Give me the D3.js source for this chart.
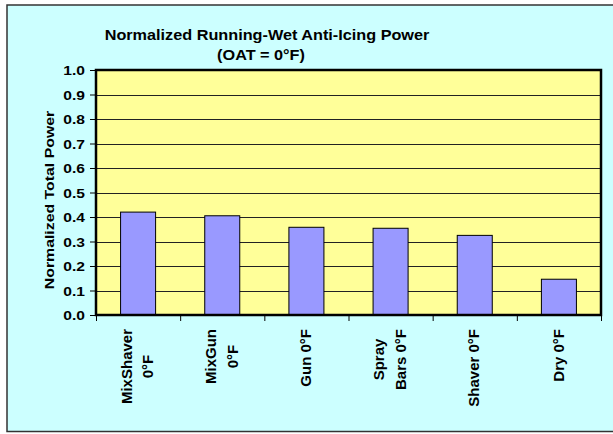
<!DOCTYPE html>
<html>
<head>
<meta charset="utf-8">
<script src="https://cdn.jsdelivr.net/npm/d3@7"></script>
<style>
  body { margin: 0; background: #fff; }
  svg { display: block; }
</style>
</head>
<body>
<div id="chart"></div>
<script>
const categories = ["MixShaver\n0°F", "MixGun\n0°F", "Gun 0°F", "Spray\nBars 0°F", "Shaver 0°F", "Dry 0°F"];
const values = [0.42, 0.405, 0.358, 0.354, 0.325, 0.146];
const yTicks = [0, 0.1, 0.2, 0.3, 0.4, 0.5, 0.6, 0.7, 0.8, 0.9, 1.0];
const titleLines = ["Normalized Running-Wet Anti-Icing Power", "(OAT = 0°F)"];
const yTitle = "Normalized Total Power";

const width = 613, height = 434;
const plot = { left: 96, right: 601, top: 70, bottom: 315 };
const font = "'Liberation Sans', Arial, Helvetica, sans-serif";

const svg = d3.select("#chart").append("svg")
  .attr("width", width)
  .attr("height", height);

// chart area (light cyan with dark frame, runs past the right edge)
svg.append("rect")
  .attr("x", 7).attr("y", 5)
  .attr("width", 700).attr("height", 426.5)
  .attr("fill", "#ccffff")
  .attr("stroke", "#333")
  .attr("stroke-width", 1.5);

const x = d3.scaleBand()
  .domain(categories)
  .range([plot.left, plot.right])
  .paddingInner(0.584)
  .paddingOuter(0.292);

const xEdges = d3.scaleLinear()
  .domain([0, categories.length])
  .range([plot.left, plot.right]);

const y = d3.scaleLinear()
  .domain([0, 1])
  .range([plot.bottom, plot.top]);

// plot area
svg.append("rect")
  .attr("x", plot.left).attr("y", plot.top)
  .attr("width", plot.right - plot.left)
  .attr("height", plot.bottom - plot.top)
  .attr("fill", "#ffff99");

// gridlines
svg.append("g")
  .selectAll("line")
  .data(yTicks.filter((d) => d > 0 && d < 1))
  .join("line")
  .attr("x1", plot.left).attr("x2", plot.right)
  .attr("y1", (d) => Math.round(y(d)) + 0.5)
  .attr("y2", (d) => Math.round(y(d)) + 0.5)
  .attr("stroke", "#222")
  .attr("stroke-width", 1);

// bars
svg.append("g")
  .selectAll("rect")
  .data(values)
  .join("rect")
  .attr("x", (d, i) => x(categories[i]))
  .attr("y", (d) => y(d))
  .attr("width", x.bandwidth())
  .attr("height", (d) => y(0) - y(d))
  .attr("fill", "#9999ff")
  .attr("stroke", "#000")
  .attr("stroke-width", 1);

// plot frame
svg.append("rect")
  .attr("x", plot.left).attr("y", plot.top)
  .attr("width", plot.right - plot.left)
  .attr("height", plot.bottom - plot.top)
  .attr("fill", "none")
  .attr("stroke", "#000")
  .attr("stroke-width", 2.5);

// y axis
const yAxis = svg.append("g")
  .attr("transform", `translate(${plot.left - 1}, 0)`)
  .call(d3.axisLeft(y).tickValues(yTicks).tickSize(5).tickFormat(d3.format(".1f")));
yAxis.select(".domain").remove();
yAxis.selectAll("line").attr("stroke", "#000");
yAxis.selectAll("text")
  .attr("x", -10 / 1.2)
  .attr("dy", "0.36em")
  .attr("transform", "scale(1.2,1)")
  .style("font-family", font)
  .style("font-weight", "bold")
  .style("font-size", "13px")
  .attr("fill", "#000");

// x axis ticks at category edges
const xAxis = svg.append("g")
  .attr("transform", `translate(0, ${plot.bottom + 1})`)
  .call(d3.axisBottom(xEdges).tickValues(d3.range(categories.length + 1)).tickSize(5).tickFormat(""));
xAxis.select(".domain").remove();
xAxis.selectAll("line").attr("stroke", "#000");

// x labels, rotated, lines centred on each other
const labelTop = 329;
const labels = svg.append("g")
  .selectAll("text")
  .data(categories)
  .join("text")
  .attr("transform", (d) => `translate(${x(d) + x.bandwidth() / 2}, ${labelTop}) rotate(-90)`)
  .style("font-family", font)
  .style("font-weight", "bold")
  .style("font-size", "15px")
  .attr("fill", "#000")
  .attr("text-anchor", "middle");

labels.each(function (d) {
  const lines = d.split("\n");
  const g = d3.select(this);
  const offsets = lines.length === 1 ? [4.6] : [-6.1, 15.3];
  lines.forEach((line, i) => {
    g.append("tspan").attr("y", offsets[i]).text(line);
  });
  const maxLen = d3.max(g.selectAll("tspan").nodes(), (n) => n.getComputedTextLength());
  g.selectAll("tspan").attr("x", -maxLen / 2);
});

// y axis title
svg.append("text")
  .attr("transform", `translate(53.5, 200) rotate(-90) scale(1.27,1)`)
  .attr("text-anchor", "middle")
  .style("font-family", font)
  .style("font-weight", "bold")
  .style("font-size", "12.5px")
  .attr("fill", "#000")
  .text(yTitle);

// chart title
const titlePos = [[267, 39.5], [261, 59.5]];
svg.append("g")
  .selectAll("text")
  .data(titleLines)
  .join("text")
  .attr("transform", (d, i) => `translate(${titlePos[i][0]}, ${titlePos[i][1]}) scale(1.16,1)`)
  .attr("text-anchor", "middle")
  .style("font-family", font)
  .style("font-weight", "bold")
  .style("font-size", "14px")
  .attr("fill", "#000")
  .text((d) => d);
</script>
</body>
</html>
